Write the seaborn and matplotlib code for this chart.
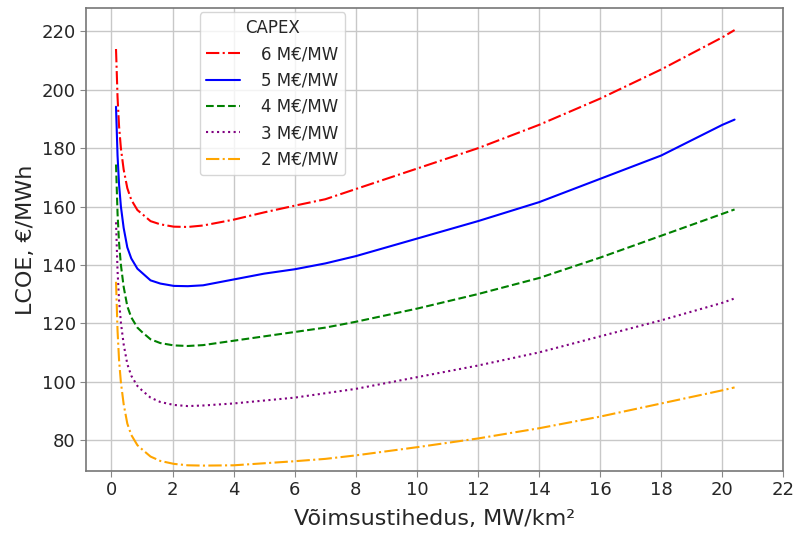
import numpy as np
import pandas as pd
import matplotlib
matplotlib.use("Agg")
import matplotlib.pyplot as plt
import seaborn as sns

density = [0.15, 0.2, 0.25, 0.31, 0.4, 0.52, 0.65, 0.85, 1.0, 1.28, 1.6, 2.04, 2.5, 3.0,
           4, 5, 6, 7, 8, 10, 12, 14, 16, 18, 20, 20.4]
lcoe_6 = [214, 197.5, 187.5, 180, 172.7, 166.3, 162.3, 158.8, 157.5, 155, 153.9, 153.1, 153, 153.5,
          155.5, 158, 160.3, 162.5, 166, 173, 180, 188, 197, 207, 218, 220.5]
lcoe_5 = [194.2, 177.5, 167.5, 160, 152.7, 146, 142.2, 138.7, 137.3, 134.7, 133.6, 132.8, 132.7, 133,
          135, 137, 138.5, 140.5, 143, 149, 155, 161.5, 169.5, 177.5, 188, 189.8]
lcoe_4 = [174.4, 157.7, 147.5, 140, 132.5, 125.8, 122, 118.5, 117, 114.5, 113.2, 112.4, 112.2, 112.5,
          114, 115.5, 117, 118.5, 120.5, 125, 130, 135.5, 142.5, 150, 157.5, 159]
lcoe_3 = [154.6, 138, 127.8, 120.2, 112.8, 106, 102, 98.5, 97, 94.5, 93, 92, 91.6, 91.8,
          92.5, 93.5, 94.5, 96, 97.5, 101.5, 105.5, 110, 115.5, 121, 127, 128.5]
lcoe_2 = [134.2, 117.5, 107.3, 99.7, 92.3, 85.6, 81.7, 78.2, 76.8, 74.3, 72.8, 71.8, 71.3, 71.2,
          71.3, 72, 72.7, 73.5, 74.7, 77.5, 80.5, 84, 88, 92.5, 97, 98]
labels = ["6 M€/MW", "5 M€/MW", "4 M€/MW", "3 M€/MW", "2 M€/MW"]
series = [lcoe_6, lcoe_5, lcoe_4, lcoe_3, lcoe_2]
colors = ["red", "blue", "green", "purple", "orange"]
styles = ["-.", "-", "--", ":", "-."]

sns.set_style("whitegrid")
plt.rcParams['font.family'] = ['DejaVu Sans']
fig, ax = plt.subplots(figsize=(7.97, 5.44), dpi=100)

for lab, vals, c, ls in zip(labels, series, colors, styles):
    df = pd.DataFrame({"x": density, "y": vals})
    sns.lineplot(data=df, x="x", y="y", ax=ax, color=c, linestyle=ls, linewidth=1.5, label=lab)

ax.set_xlim(-0.83, 22)
ax.set_ylim(69.5, 228)
ax.set_xticks(np.arange(0, 23, 2))
ax.set_yticks(np.arange(80, 221, 20))
ax.tick_params(labelsize=13, length=4, color="#888888", left=True, bottom=True)
ax.set_xlabel("Võimsustihedus, MW/km²", fontsize=16, labelpad=7)
ax.set_ylabel("LCOE, €/MWh", fontsize=16)
ax.grid(True, color="#c8c8c8", linewidth=1.0)
for s in ax.spines.values():
    s.set_color("#777777")
    s.set_linewidth(1.2)

leg = ax.legend(title="CAPEX", loc="upper left", bbox_to_anchor=(0.151, 1.009),
                fontsize=12, title_fontsize=12, frameon=True, handlelength=2.0,
                handletextpad=1.3)

fig.subplots_adjust(left=0.108, right=0.983, top=0.985, bottom=0.135)
fig.savefig("out.png", dpi=100)
